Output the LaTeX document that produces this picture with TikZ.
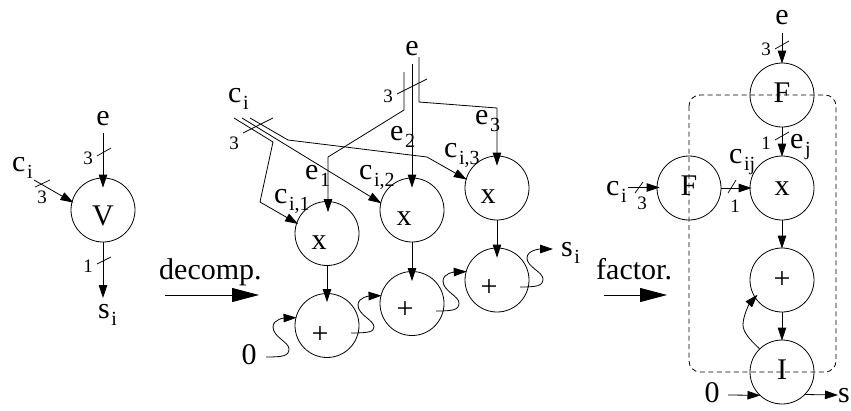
\documentclass[tikz,border=0pt]{standalone}
\usepackage{fontspec}
\setmainfont{Liberation Serif}
\usetikzlibrary{arrows.meta}
\newcommand{\Sb}[1]{\hspace{1.5pt}\raisebox{-7.5pt}{\fontsize{20}{20}\selectfont #1}}
\tikzset{
  opnode/.style={circle,draw,minimum size=64pt,inner sep=0pt,line width=0.8pt},
  lab/.style={anchor=base west,inner sep=0pt,font=\fontsize{30}{30}\selectfont},
  clab/.style={anchor=base,inner sep=0pt,font=\fontsize{30}{30}\selectfont},
  num/.style={anchor=center,inner sep=0pt,font=\fontsize{19}{19}\selectfont},
  wire/.style={line width=0.8pt},
  arr/.style={line width=0.8pt,-{Triangle[length=13pt,width=8.5pt]},shorten >=-1pt},
  inarr/.style={arr,shorten >=-10pt},
  bigarr/.style={line width=0.8pt,-{Triangle[length=27pt,width=14pt]}},
  tick/.style={line width=0.7pt},
}
\begin{document}
\begin{tikzpicture}[x=1pt,y=-1pt]
\useasboundingbox (0,0) rectangle (851,410);
% circles
\node[opnode] (V) at (103,210) {};
\node[opnode] (x1) at (327,233.5) {};
\node[opnode] (x2) at (412,210) {};
\node[opnode] (x3) at (497,188) {};
\node[opnode] (p1) at (327,325.5) {};
\node[opnode] (p2) at (412,303.5) {};
\node[opnode] (p3) at (497,280) {};
\node[opnode] (Ft) at (782,95) {};
\node[opnode] (xr) at (782,188) {};
\node[opnode] (Fl) at (689,188) {};
\node[opnode] (pr) at (782,280) {};
\node[opnode] (Ib) at (782,372) {};
% dashed box
\coordinate (boxa) at (689,95);
\coordinate (boxb) at (836,372);
\draw[line width=0.8pt,dash pattern=on 5pt off 3.5pt,rounded corners=11pt] (boxa) rectangle (boxb);
% circle labels
\node[clab] (tV) at (103,225) {V};
\node[clab] (tx1) at (319,249) {x};
\node[clab] (tx2) at (404,225) {x};
\node[clab] (tx3) at (488,203) {x};
\node[clab] (tp1) at (320,343) {+};
\node[clab] (tp2) at (405,318) {+};
\node[clab] (tp3) at (489,296) {+};
\node[clab] (tFt) at (782,102) {F};
\node[clab] (tFl) at (689,195) {F};
\node[clab] (txr) at (782,195) {x};
\node[clab] (tpr) at (782,288) {+};
\node[clab] (tI) at (782,379) {I};
% left part
\node[clab] (e0) at (103,125) {e};
\node[lab] (c0) at (12,171) {c\Sb{i}};
\node[lab] (s0) at (98,318) {s\Sb{i}};
\node[num] (n0a) at (88,158) {3};
\node[num] (n0b) at (42,197) {3};
\node[num] (n0c) at (88,266) {1};
\coordinate (e0s) at (103,133);
\coordinate (c0s) at (34,180);
\coordinate (s0t) at (103,297);
\draw[inarr] (e0s) -- (V.north);
\draw[arr,shorten >=-2pt] (c0s) -- (V.165);
\draw[arr] (V.south) -- (s0t);
\draw[tick] (97,156) -- (111,148);
\draw[tick] (35,187) -- (50,180);
\draw[tick] (97,264) -- (111,257);
% decomp
\node[lab] (dec) at (159,279) {decomp.};
\coordinate (da) at (165,295);
\coordinate (db) at (259,295);
\draw[bigarr] (da) -- (db);
% middle: e
\node[clab] (e1) at (412,55) {e};
\node[num] (n1a) at (388,96) {3};
\coordinate (ea) at (404,72);
\coordinate (eak) at (404,110);
\coordinate (eakk) at (328,157);
\coordinate (eb) at (412,64);
\coordinate (ec) at (419,57);
\coordinate (eck) at (419,102);
\coordinate (eckk) at (497,108);
\draw[inarr,shorten >=-11pt] (ea) -- (eak) -- (eakk) -- (x1.north -| eakk);
\draw[inarr] (eb) -- (x2.north);
\draw[inarr] (ec) -- (eck) -- (eckk) -- (x3.north);
\draw[tick] (397,94) -- (427,79);
% middle: ci
\node[lab] (c1) at (228,102) {c\Sb{i}};
\node[num] (n1b) at (234,143) {3};
\coordinate (ca) at (250,118);
\coordinate (cak) at (288,140);
\coordinate (cakk) at (427,157);
\coordinate (cb) at (242,118);
\coordinate (cc) at (234,118);
\coordinate (cck) at (273,142);
\coordinate (cckk) at (260,202);
\draw[arr] (ca) -- (cak) -- (cakk) -- (x3.164);
\draw[arr] (cb) -- (x2.167);
\draw[arr,shorten >=-2pt] (cc) -- (cck) -- (cckk) -- (x1.161);
\draw[tick] (243,133) -- (273,118);
% middle labels
\node[lab] (le1) at (305,179) {e\Sb{1}};
\node[lab] (le2) at (390,140) {e\Sb{2}};
\node[lab] (le3) at (475,124) {e\Sb{3}};
\node[lab] (lc1) at (274,203) {c\Sb{i,1}};
\node[lab] (lc2) at (359,179) {c\Sb{i,2}};
\node[lab] (lc3) at (444,157) {c\Sb{i,3}};
% middle vertical
\draw[arr,shorten >=-9pt] (x1.south) -- (p1.north);
\draw[arr,shorten >=-10pt] (x2.south) -- (p2.north);
\draw[arr,shorten >=-10pt] (x3.south) -- (p3.north);
% squiggles
\node[clab] (z1) at (249,364) {0};
\node[lab] (s1) at (561,256) {s\Sb{i}};
\coordinate (q0) at (266,357);
\coordinate (q1) at (351,333);
\coordinate (q2) at (436,311);
\coordinate (q3) at (520,287);
\coordinate (q4) at (552,249);
\draw[arr] (q0) .. controls (283,357) and (289,356) .. (289,349)
  .. controls (289,342) and (273,337) .. (273,327)
  .. controls (273,319) and (285,318) .. (p1.166);
\draw[arr] (q1) .. controls (368,333) and (374,332) .. (374,327)
  .. controls (374,320) and (358,315) .. (358,305)
  .. controls (358,297) and (370,296) .. (p2.166);
\draw[arr] (q2) .. controls (453,311) and (459,310) .. (459,303)
  .. controls (459,296) and (443,291) .. (443,281)
  .. controls (443,273) and (455,272) .. (p3.165);
\draw[arr] (q3) .. controls (537,287) and (543,286) .. (543,279)
  .. controls (543,272) and (527,267) .. (527,258)
  .. controls (527,250) and (540,249) .. (q4);
% factor
\node[lab] (fac) at (596,279) {factor.};
\coordinate (fa) at (604,295);
\coordinate (fb) at (667,295);
\draw[bigarr] (fa) -- (fb);
% right part
\node[clab] (e2) at (782,24) {e};
\coordinate (e2s) at (782,33);
\draw[arr] (e2s) -- (Ft.north);
\node[num] (n2a) at (766,49) {3};
\draw[tick] (775,49) -- (789,41);
\draw[arr] (Ft.south) -- (xr.north);
\node[num] (n2b) at (766,143) {1};
\draw[tick] (775,140) -- (789,132);
\node[lab] (lej) at (790,148) {e\Sb{j}};
\node[lab] (lcij) at (729,163) {c\Sb{ij}};
\node[lab] (c2) at (606,195) {c\Sb{i}};
\coordinate (c2s) at (628,187.5);
\draw[arr,shorten >=-3pt] (c2s) -- (Fl.west |- c2s);
\node[num] (n2c) at (642,203) {3};
\draw[tick] (635,193) -- (643,182);
\draw[arr,shorten >=-2pt] (Fl.east) -- (xr.west);
\node[num] (n2d) at (735,206) {1};
\draw[tick] (728,193) -- (736,180);
\draw[arr] (xr.south) -- (pr.north);
\draw[arr] (pr.south) -- (Ib.north);
\draw[arr,shorten >=-4pt] (Ib.134) .. controls (750,340) and (743,332) .. (743,325)
  .. controls (743,315) and (750,303) .. (pr.213);
\node[clab] (z2) at (712,402) {0};
\coordinate (z2s) at (728,395);
\draw[arr] (z2s) -- (Ib.226);
\node[lab] (s2) at (838,402) {s};
\coordinate (s2t) at (837,395);
\draw[arr] (Ib.-44) -- (s2t);
\end{tikzpicture}
\end{document}
